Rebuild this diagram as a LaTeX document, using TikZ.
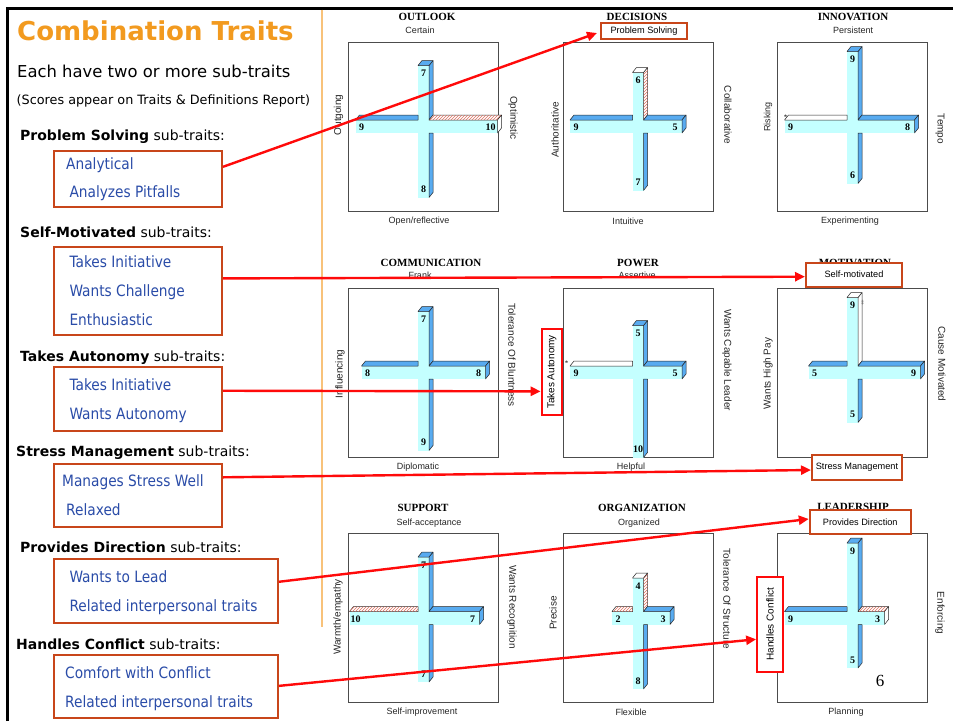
\documentclass[tikz,border=0pt]{standalone}
\usepackage{fontspec}
\usetikzlibrary{arrows.meta,calc,patterns}

\newfontfamily\ctFont{DejaVu Sans}
\newfontfamily\ctNarrow[FakeStretch=0.88]{DejaVu Sans}
\newfontfamily\ctArial{Liberation Sans}
\newfontfamily\ctSerif{Liberation Serif}

\definecolor{titleorange}{HTML}{F29A1F}
\definecolor{traitblue}{HTML}{2A4CA8}
\definecolor{boxrust}{HTML}{C8461A}
\definecolor{linkred}{HTML}{FF0A0A}
\definecolor{divider}{HTML}{F8C27A}
\definecolor{bandcyan}{HTML}{C4FFFF}
\definecolor{barblue}{HTML}{58ABF0}
\definecolor{hatchred}{HTML}{E07060}
\definecolor{labelgray}{HTML}{262626}

\tikzset{
  every node/.style={inner sep=0pt},
  heading/.style={anchor=base west, font=\ctFont\bfseries\fontsize{26}{30}\selectfont, text=titleorange},
  intro/.style={anchor=base west, font=\ctFont\fontsize{16.4}{20}\selectfont},
  note/.style={anchor=base west, font=\ctFont\fontsize{12.8}{15}\selectfont},
  group/.style={anchor=base west, font=\ctFont\fontsize{14}{16}\selectfont},
  trait/.style={anchor=base west, font=\ctNarrow\fontsize{15.6}{18}\selectfont, text=traitblue},
  traitbox/.style={draw=boxrust, line width=2pt},
  tagbox/.style={draw=boxrust, line width=2pt, fill=white, font=\ctArial\fontsize{9.2}{10}\selectfont},
  redtag/.style={draw=linkred, line width=2pt, fill=white, font=\ctArial\fontsize{10}{11}\selectfont},
  link/.style={draw=linkred, line width=2.4pt, -{Triangle[length=10pt,width=9pt]}},
  panel/.style={draw=black!70, line width=1pt, minimum width=150pt, minimum height=169pt},
  ptitle/.style={font=\ctSerif\bfseries\fontsize{11}{12}\selectfont},
  pend/.style={font=\ctArial\fontsize{9}{10}\selectfont, text=labelgray},
  pside/.style={font=\ctArial\fontsize{10}{11}\selectfont, text=labelgray},
  lside/.style={pside, rotate=90},
  rside/.style={pside, rotate=-90},
  score/.style={font=\ctSerif\bfseries\fontsize{10}{10}\selectfont},
  face/.style={draw=black!85, line width=0.5pt, line join=round},
  long b/.style={face, fill=barblue}, cap b/.style={face, fill=barblue},
  long w/.style={face, fill=white},   cap w/.style={face, fill=white},
  long h/.style={face, fill=white, postaction={pattern=north east lines, pattern color=hatchred}},
  cap h/.style={face, fill=white},
}

% Score cross: arms up/down/left/right with their scores, then the look
% of each arm (b = blue, w = white, h = hatched); drawn around (0,0).
\newcommand\barcross[8]{%
  \pgfmathsetmacro\crU{12+7*#1}%
  \pgfmathsetmacro\crD{15+7*#2}%
  \pgfmathsetmacro\crL{14+6*#3}%
  \pgfmathsetmacro\crR{14+6*#4}%
  \fill[bandcyan] (-5.5,-\crU) rectangle (5.5,\crD);
  \fill[bandcyan] (-\crL,-6.5) rectangle (\crR,6.5);
  \draw[long #5] (5.5,-\crU) -- (5.5,-6.5) -- (9.5,-11.5) -- (9.5,-\crU-5) -- cycle;
  \draw[cap #5] (-5.5,-\crU) -- (5.5,-\crU) -- (9.5,-\crU-5) -- (-1.5,-\crU-5) -- cycle;
  \draw[long #6] (5.5,6.5) -- (5.5,\crD) -- (9.5,\crD-5) -- (9.5,6.5) -- cycle;
  \draw[long #7] (-\crL,-6.5) -- (-5.5,-6.5) -- (-5.5,-11.5) -- (-\crL+4,-11.5) -- cycle;
  \draw[long #8] (5.5,-6.5) -- (\crR,-6.5) -- (\crR+4,-11.5) -- (9.5,-11.5) -- cycle;
  \draw[cap #8] (\crR,-6.5) -- (\crR,6.5) -- (\crR+4,1.5) -- (\crR+4,-11.5) -- cycle;
  \node[score] (up) at (0,-\crU+8) {#1};
  \node[score] (down) at (0,\crD-8) {#2};
  \node[score] (left) at (-\crL+6,1) {#3};
  \node[score] (right) at (\crR-7,1) {#4};
}

\begin{document}
\begin{tikzpicture}[x=1pt,y=-1pt]
\useasboundingbox (0,0) rectangle (953,721);
\fill[white] (0,0) rectangle (953,721);

% page frame and divider
\draw[line width=3pt] (7,721) -- (7,8) -- (953,8);
\draw[divider, line width=1.2pt] (322,9.5) -- (322,627);

% ---------- left column ----------
\node[heading] (head) at (17,40.5) {Combination Traits};
\node[intro] (intro) at (17,77.3) {Each have two or more sub-traits};
\node[note] (note) at (16.5,104.3) {(Scores appear on Traits \& Definitions Report)};

\node[group] (g1) at (20,140) {\textbf{Problem Solving} sub-traits:};
\node[traitbox, minimum width=168pt, minimum height=56pt] (b1) at (138,179) {};
\node[trait] (a1) at (66,169.3) {Analytical};
\node[trait] (a2) at (69.3,197.7) {Analyzes Pitfalls};

\node[group] (g2) at (20,237.3) {\textbf{Self-Motivated} sub-traits:};
\node[traitbox, minimum width=168pt, minimum height=88pt] (b2) at (138,291) {};
\node[trait] (m1) at (69.3,267.3) {Takes Initiative};
\node[trait] (m2) at (69.3,296.7) {Wants Challenge};
\node[trait] (m3) at (69.3,325) {Enthusiastic};

\node[group] (g3) at (20,361) {\textbf{Takes Autonomy} sub-traits:};
\node[traitbox, minimum width=168pt, minimum height=64pt] (b3) at (138,399) {};
\node[trait] (u1) at (69.3,390) {Takes Initiative};
\node[trait] (u2) at (69.3,419.3) {Wants Autonomy};

\node[group] (g4) at (16,456.7) {\textbf{Stress Management} sub-traits:};
\node[traitbox, minimum width=168pt, minimum height=63pt] (b4) at (138,495.5) {};
\node[trait] (s1) at (62,486) {Manages Stress Well};
\node[trait] (s2) at (66,515) {Relaxed};

\node[group] (g5) at (20,552.7) {\textbf{Provides Direction} sub-traits:};
\node[traitbox, minimum width=224pt, minimum height=64pt] (b5) at (166,591) {};
\node[trait] (d1) at (69.3,582) {Wants to Lead};
\node[trait] (d2) at (69.3,611) {Related interpersonal traits};

\node[group] (g6) at (16,649) {\textbf{Handles Conflict} sub-traits:};
\node[traitbox, minimum width=224pt, minimum height=63pt] (b6) at (166,686.5) {};
\node[trait] (h1) at (65,678.3) {Comfort with Conflict};
\node[trait] (h2) at (65,707.3) {Related interpersonal traits};

% ---------- scale panels ----------
\node[panel] (p1) at (423.5,126.5) {};
\node[panel] (p2) at (638,126.5) {};
\node[panel] (p3) at (852.5,126.5) {};
\node[panel] (p4) at (423.5,372.5) {};
\node[panel] (p5) at (638,372.5) {};
\node[panel] (p6) at (852.5,372.5) {};
\node[panel] (p7) at (423.5,618) {};
\node[panel] (p8) at (638,618) {};
\node[panel] (p9) at (852.5,618) {};

\begin{scope}[shift={(423.5,126.5)}, name prefix=outlook-]
  \barcross{7}{8}{9}{10}{b}{b}{b}{h}
\end{scope}
\begin{scope}[shift={(638,126.5)}, name prefix=decisions-]
  \barcross{6}{7}{9}{5}{h}{b}{b}{b}
\end{scope}
\begin{scope}[shift={(852.5,126.5)}, name prefix=innovation-]
  \barcross{9}{6}{9}{8}{b}{b}{w}{b}
\end{scope}
\begin{scope}[shift={(423.5,372.5)}, name prefix=communication-]
  \barcross{7}{9}{8}{8}{b}{b}{b}{b}
\end{scope}
\begin{scope}[shift={(638,372.5)}, name prefix=power-]
  \barcross{5}{10}{9}{5}{b}{b}{w}{b}
\end{scope}
\begin{scope}[shift={(852.5,372.5)}, name prefix=motivation-]
  \barcross{9}{5}{5}{9}{w}{b}{b}{b}
\end{scope}
\begin{scope}[shift={(423.5,618)}, name prefix=support-]
  \barcross{7}{7}{10}{7}{b}{b}{h}{b}
\end{scope}
\begin{scope}[shift={(638,618)}, name prefix=organization-]
  \barcross{4}{8}{2}{3}{h}{b}{h}{b}
\end{scope}
\begin{scope}[shift={(852.5,618)}, name prefix=leadership-]
  \barcross{9}{5}{9}{3}{b}{b}{b}{h}
\end{scope}

% small markers beside some arms
\node[font=\ctSerif\fontsize{7}{7}\selectfont] (mk1) at (785.5,117) {*};
\node[font=\ctSerif\fontsize{7}{7}\selectfont] (mk2) at (566.5,363.5) {*};
\node[font=\ctFont\fontsize{6}{6}\selectfont, text=black!60] (mk3) at (862.5,303) {‡};

% panel captions, row 1
\node[ptitle] (t-outlook) at (427,17) {OUTLOOK};
\node[pend] (e1a) at (420,30) {Certain};
\node[pend] (e1b) at (419,221) {Open/reflective};
\node[lside] (s1a) at (338.5,115) {Outgoing};
\node[rside] (s1b) at (513,118) {Optimistic};

\node[ptitle] (t-decisions) at (637,17) {DECISIONS};
\node[pend] (e2b) at (628,221) {Intuitive};
\node[lside] (s2a) at (555,130) {Authoritative};
\node[rside] (s2b) at (728,115) {Collaborative};

\node[ptitle] (t-innovation) at (853,17) {INNOVATION};
\node[pend] (e3a) at (853,30) {Persistent};
\node[pend] (e3b) at (850,221) {Experimenting};
\node[lside, font=\ctArial\fontsize{9}{10}\selectfont] (s3a) at (768,117) {Risking};
\node[rside] (s3b) at (940,129) {Tempo};

% row 2
\node[ptitle] (t-communication) at (431,263) {COMMUNICATION};
\node[pend] (e4a) at (420,275) {Frank};
\node[pend] (e4b) at (418,467) {Diplomatic};
\node[lside] (s4a) at (340,374) {Influencing};
\node[rside] (s4b) at (512,355) {Tolerance Of Bluntness};

\node[ptitle] (t-power) at (638,263) {POWER};
\node[pend] (e5a) at (637,275) {Assertive};
\node[pend] (e5b) at (631,467) {Helpful};
\node[rside] (s5b) at (727,360) {Wants Capable Leader};

\node[ptitle] (t-motivation) at (855,263) {MOTIVATION};
\node[lside] (s6a) at (768,373.5) {Wants High Pay};
\node[rside] (s6b) at (942,364) {Cause Motivated};

% row 3
\node[ptitle] (t-support) at (423,508) {SUPPORT};
\node[pend] (e7a) at (429,523) {Self-acceptance};
\node[pend] (e7b) at (422,712) {Self-improvement};
\node[lside] (s7a) at (338,617) {Warmth/empathy};
\node[rside] (s7b) at (512,607) {Wants Recognition};

\node[ptitle] (t-organization) at (642,508) {ORGANIZATION};
\node[pend] (e8a) at (639,523) {Organized};
\node[pend] (e8b) at (631,712) {Flexible};
\node[lside] (s8a) at (553,613) {Precise};
\node[rside] (s8b) at (727,599) {Tolerance Of Structure};

\node[ptitle] (t-leadership) at (853,507) {LEADERSHIP};
\node[pend] (e9b) at (846,712) {Planning};
\node[rside] (s9b) at (940,613) {Enforcing};

\node[font=\ctSerif\fontsize{17}{17}\selectfont] (pageno) at (880,681) {6};

% highlighted scale labels
\node[tagbox, minimum width=86pt, minimum height=16pt] (t1) at (644,31) {Problem Solving};
\node[tagbox, minimum width=96pt, minimum height=24pt] (t2) at (854,274.7) {Self-motivated};
\node[redtag, minimum width=20pt, minimum height=86pt] (t3) at (551.7,372) {\rotatebox{90}{Takes Autonomy}};
\node[tagbox, minimum width=90pt, minimum height=25pt] (t4) at (857,467.5) {Stress Management};
\node[tagbox, minimum width=101pt, minimum height=24pt] (t5) at (860.3,522) {Provides Direction};
\node[redtag, minimum width=25.7pt, minimum height=94.7pt] (t6) at (770,624.3) {\rotatebox{90}{Handles Conflict}};

% links from sub-trait groups to their scales
\draw[link] ($(b1.north east)!0.29!(b1.south east)$) -- ($(t1.west)+(-3,2)$);
\draw[link] ($(b2.north east)!0.36!(b2.south east)$) -- ($(t2.west)+(0,2)$);
\draw[link] ($(b3.north east)!0.375!(b3.south east)$) -- ($(t3.north west)!0.72!(t3.south west)$);
\draw[link] ($(b4.north east)!0.22!(b4.south east)$) -- ($(t4.west)+(0,2.5)$);
\draw[link] ($(b5.north east)!0.36!(b5.south east)$) -- ($(t5.west)+(0,-3)$);
\draw[link] ($(b6.north east)!0.49!(b6.south east)$) -- ($(t6.north west)!0.655!(t6.south west)$);
\end{tikzpicture}
\end{document}
